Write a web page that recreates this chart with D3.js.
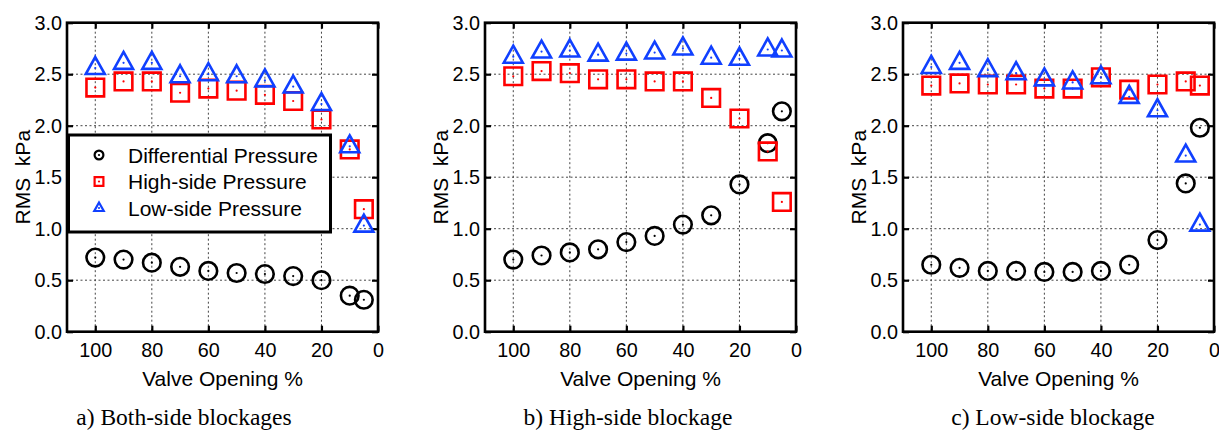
<!DOCTYPE html>
<html>
<head>
<meta charset="utf-8">
<script src="https://cdn.jsdelivr.net/npm/d3@7"></script>
<style>
  body { margin: 0; background: #fff; }
  svg { display: block; }
  text { font-family: "Liberation Sans", Arial, sans-serif; fill: #000; }
  .caption { font-family: "Liberation Serif", "Times New Roman", serif; }
</style>
</head>
<body>
<main></main>
<script>
// valve opening positions (%)
const opening = [100, 90, 80, 70, 60, 50, 40, 30, 20, 10, 5];
const seriesNames = ['Differential Pressure', 'High-side Pressure', 'Low-side Pressure'];
const captions = ['a) Both-side blockages', 'b) High-side blockage', 'c) Low-side blockage'];
const xTicks = [100, 80, 60, 40, 20, 0];
const yTicks = [0, 0.5, 1.0, 1.5, 2.0, 2.5, 3.0];

// a) both-side blockages
const bothDiff = [0.72, 0.70, 0.67, 0.63, 0.59, 0.57, 0.56, 0.54, 0.50, 0.35, 0.31];
const bothHigh = [2.37, 2.43, 2.43, 2.32, 2.36, 2.34, 2.30, 2.24, 2.06, 1.77, 1.19];
const bothLow  = [2.56, 2.61, 2.61, 2.48, 2.50, 2.48, 2.44, 2.38, 2.21, 1.80, 1.03];

// b) high-side blockage
const highDiff = [0.70, 0.74, 0.77, 0.80, 0.87, 0.93, 1.04, 1.13, 1.43, 1.83, 2.14];
const highHigh = [2.48, 2.53, 2.51, 2.45, 2.45, 2.43, 2.43, 2.27, 2.07, 1.75, 1.26];
const highLow  = [2.67, 2.72, 2.73, 2.69, 2.70, 2.71, 2.75, 2.66, 2.65, 2.74, 2.73];

// c) low-side blockage
const lowDiff = [0.65, 0.62, 0.59, 0.59, 0.58, 0.58, 0.59, 0.65, 0.89, 1.44, 1.98];
const lowHigh = [2.39, 2.41, 2.40, 2.40, 2.36, 2.36, 2.47, 2.35, 2.40, 2.43, 2.39];
const lowLow  = [2.57, 2.61, 2.54, 2.51, 2.45, 2.42, 2.47, 2.28, 2.15, 1.71, 1.04];

const panels = [
  { caption: captions[0], series: [bothDiff, bothHigh, bothLow], legend: true },
  { caption: captions[1], series: [highDiff, highHigh, highLow] },
  { caption: captions[2], series: [lowDiff, lowHigh, lowLow] }
];

const colors = ['#000000', '#ff0000', '#1040ff'];
const shapes = ['circle', 'square', 'triangle'];

const W = 1219, H = 430;
const svg = d3.select('main').append('svg')
  .attr('width', W)
  .attr('height', H);

const lefts = [67, 485, 903];
const plotW = 311;
const plotTop = 22.7, plotBottom = 331.7;

const y = d3.scaleLinear().domain([0, 3]).range([plotBottom, plotTop]);

// marker path builder
function markerPath(shape, s) {
  if (shape === 'circle') {
    const r = 8.8 * s;
    return `M${r},0A${r},${r} 0 1,1 ${-r},0A${r},${r} 0 1,1 ${r},0Z`;
  }
  if (shape === 'square') {
    const h = 8.8 * s;
    return `M${-h},${-h}H${h}V${h}H${-h}Z`;
  }
  return `M0,${-11 * s}L${9.5 * s},${6 * s}L${-9.5 * s},${6 * s}Z`;
}

function drawMarker(g, shape, color, s, sw) {
  g.append('path')
    .attr('d', markerPath(shape, s))
    .attr('fill', 'none')
    .attr('stroke', color)
    .attr('stroke-width', sw);
  g.append('circle')
    .attr('r', 1.1)
    .attr('fill', color);
}

panels.forEach((p, i) => {
  const left = lefts[i];
  const x = d3.scaleLinear().domain([110, 0]).range([left, left + plotW]);
  const g = svg.append('g');

  // grid
  g.selectAll('.vgrid')
    .data(xTicks.filter(t => t > 0))
    .enter().append('line')
    .attr('x1', d => x(d)).attr('x2', d => x(d))
    .attr('y1', plotTop).attr('y2', plotBottom)
    .attr('stroke', '#444').attr('stroke-width', 1)
    .attr('stroke-dasharray', '2,2.5');
  g.selectAll('.hgrid')
    .data(yTicks.filter(t => t > 0 && t < 3))
    .enter().append('line')
    .attr('x1', left).attr('x2', left + plotW)
    .attr('y1', d => y(d)).attr('y2', d => y(d))
    .attr('stroke', '#444').attr('stroke-width', 1)
    .attr('stroke-dasharray', '2,2.5');

  // axes with inward ticks
  const fmt = d3.format('.1f');
  const axB = g.append('g').attr('transform', `translate(0,${plotBottom})`)
    .call(d3.axisBottom(x).tickValues(xTicks).tickSize(-6).tickPadding(11.5));
  const axT = g.append('g').attr('transform', `translate(0,${plotTop})`)
    .call(d3.axisTop(x).tickValues(xTicks).tickSize(-6).tickFormat(''));
  const axL = g.append('g').attr('transform', `translate(${left},0)`)
    .call(d3.axisLeft(y).tickValues(yTicks).tickSize(-6).tickPadding(5).tickFormat(fmt));
  const axR = g.append('g').attr('transform', `translate(${left + plotW},0)`)
    .call(d3.axisRight(y).tickValues(yTicks).tickSize(-6).tickFormat(''));
  [axB, axT, axL, axR].forEach(a => {
    a.select('.domain').remove();
    a.selectAll('.tick line').attr('stroke', '#000').attr('stroke-width', 2.2);
    a.selectAll('.tick text')
      .style('font-family', '"Liberation Sans", Arial, sans-serif')
      .style('font-size', '19.8px').attr('fill', '#000');
  });

  // box
  g.append('rect')
    .attr('x', left).attr('y', plotTop)
    .attr('width', plotW).attr('height', plotBottom - plotTop)
    .attr('fill', 'none').attr('stroke', '#000').attr('stroke-width', 2.6);

  // series markers: circles, then squares, then triangles
  p.series.forEach((vals, k) => {
    g.selectAll('.m' + k)
      .data(opening.map((o, j) => ({ o: o, v: vals[j] })))
      .enter().append('g')
      .attr('transform', d => `translate(${x(d.o)},${y(d.v)})`)
      .each(function () { drawMarker(d3.select(this), shapes[k], colors[k], 1, 2.6); });
  });

  // axis titles
  g.append('text')
    .attr('x', left + plotW / 2).attr('y', 386)
    .attr('text-anchor', 'middle')
    .style('font-size', '21px')
    .text('Valve Opening %');
  g.append('text')
    .attr('transform', `translate(${left - 37},${(plotTop + plotBottom) / 2}) rotate(-90)`)
    .attr('text-anchor', 'middle')
    .style('font-size', '21px')
    .style('white-space', 'pre')
    .text('RMS  kPa');

  // caption
  const capX = [184, 628, 1053];
  g.append('text')
    .attr('class', 'caption')
    .attr('x', capX[i]).attr('y', 425)
    .attr('text-anchor', 'middle')
    .style('font-size', '23.5px')
    .text(p.caption);

  // legend
  if (p.legend) {
    const lg = g.append('g');
    lg.append('rect')
      .attr('x', 68.5).attr('y', 135)
      .attr('width', 262).attr('height', 97)
      .attr('fill', '#fff').attr('stroke', '#000').attr('stroke-width', 3);
    seriesNames.forEach((name, k) => {
      const ry = 155 + k * 26.5;
      const mg = lg.append('g').attr('transform', `translate(99,${ry})`);
      drawMarker(mg, shapes[k], colors[k], 0.5, 2.2);
      lg.append('text')
        .attr('x', 128).attr('y', ry)
        .attr('dy', '0.36em')
        .style('font-size', '21px')
        .text(name);
    });
  }
});
</script>
</body>
</html>
